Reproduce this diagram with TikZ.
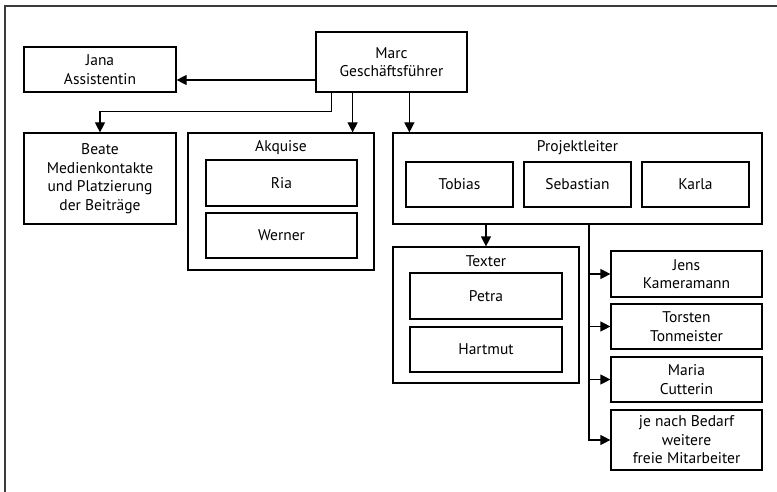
\documentclass[tikz,border=0pt]{standalone}
\usepackage{fontspec}
\setmainfont{PT Sans}
\usetikzlibrary{arrows.meta}
\definecolor{lgray}{RGB}{60,60,60}
\tikzset{
      box/.style={draw=black, line width=1.2, align=center, inner sep=0pt,
            font=\fontsize{15.5}{18.5}\selectfont},
      group/.style={draw=black, line width=1.2},
      title/.style={inner sep=0pt, font=\fontsize{15.5}{18.5}\selectfont},
      link/.style={draw=black, line width=1.2},
      arr/.style={draw=black, line width=1.2, -{Triangle[length=10pt,width=10pt]}},
      frame/.style={draw=lgray, line width=2},
}
\begin{document}
\begin{tikzpicture}[x=1pt,y=-1pt]

        \useasboundingbox (0,0) rectangle (777,492);
        \draw[frame] (4.5,492) -- (4.5,6) -- (777,6);

        \node[box, minimum width=151, minimum height=60] (marc) at (391.5,62) {Marc\\Geschäftsführer};
        \node[box, minimum width=152, minimum height=45] (jana) at (100,69.5) {Jana\\Assistentin};
        \node[box, minimum width=152, minimum height=91] (beate) at (100,178.5) {Beate\\Medienkontakte\\und Platzierung\\der Beiträge};

        \node[group, minimum width=186, minimum height=137] (akquise) at (281,201.5) {};
        \node[title] (akqtitle) at (281,148) {Akquise};
        \node[box, minimum width=151, minimum height=46] (ria) at (281.5,183) {Ria};
        \node[box, minimum width=151, minimum height=45] (werner) at (281.5,235.5) {Werner};

        \node[group, minimum width=369, minimum height=91] (projekt) at (577.5,178.5) {};
        \node[title] (projtitle) at (577.5,148) {Projektleiter};
        \node[box, minimum width=107, minimum height=45] (tobias) at (459.5,184.5) {Tobias};
        \node[box, minimum width=107, minimum height=45] (sebastian) at (577.5,184.5) {Sebastian};
        \node[box, minimum width=107, minimum height=45] (karla) at (695.5,184.5) {Karla};

        \node[group, minimum width=186, minimum height=136] (texter) at (486,315) {};
        \node[title] (textitle) at (486,261) {Texter};
        \node[box, minimum width=152, minimum height=46] (petra) at (486,296) {Petra};
        \node[box, minimum width=152, minimum height=45] (hartmut) at (486,349.5) {Hartmut};

        \node[box, minimum width=151, minimum height=46] (jens) at (686.5,274) {Jens\\Kameramann};
        \node[box, minimum width=151, minimum height=45] (torsten) at (686.5,326.5) {Torsten\\Tonmeister};
        \node[box, minimum width=151, minimum height=45] (maria) at (686.5,379.5) {Maria\\Cutterin};
        \node[box, minimum width=151, minimum height=60] (bedarf) at (686.5,440) {je nach Bedarf\\weitere\\freie Mitarbeiter};

        \coordinate (janaout) at ([yshift=-18pt]marc.west);
        \coordinate (beateout) at ([xshift=16pt]marc.south west);
        \coordinate (akqin) at ([xshift=-22pt]akquise.north east);
        \coordinate (projin) at ([xshift=17pt]projekt.north west);
        \coordinate (bustop) at ([xshift=11.5pt]projekt.south);

        \draw[arr] (janaout) -- (janaout -| jana.east);
        \draw[arr] (beateout) -- ++(0,19) -| (beate.north);
        \draw[arr] (marc.south -| akqin) -- (akqin);
        \draw[arr] (marc.south -| projin) -- (projin);
        \draw[arr] (projekt.south -| texter.north) -- (texter.north);

        \draw[arr] (bustop) |- (bedarf.west);
        \foreach \n in {jens,torsten,maria}
            \draw[arr] (bustop |- \n.west) -- (\n.west);

\end{tikzpicture}
\end{document}
